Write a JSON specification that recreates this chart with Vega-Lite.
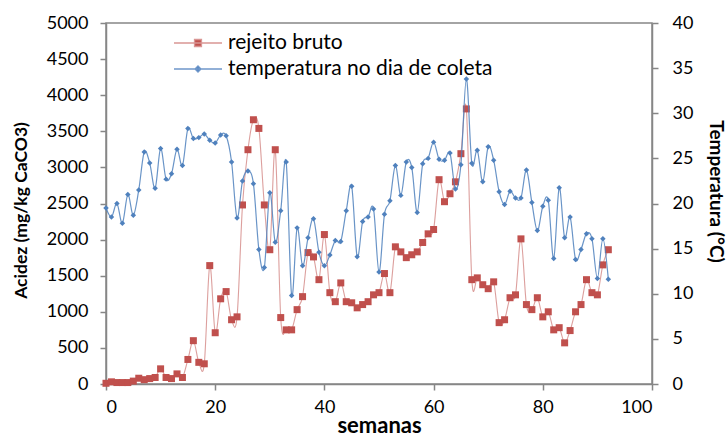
{
  "$schema": "https://vega.github.io/schema/vega-lite/v6.json",
  "width": 546,
  "height": 361,
  "autosize": {"type": "none"},
  "padding": {"left": 106, "top": 23, "right": 76, "bottom": 52},
  "config": {
    "font": "Lato",
    "view": {"stroke": "#868686", "strokeWidth": 1.5},
    "axis": {
      "grid": false,
      "domainColor": "#868686",
      "domainWidth": 1.5,
      "tickColor": "#868686",
      "tickWidth": 1.5,
      "tickSize": 6,
      "labelColor": "#000000",
      "labelFontSize": 18,
      "labelFont": "Lato",
      "titleFont": "Lato",
      "titleFontWeight": "bold",
      "titleColor": "#000000",
      "titleFontSize": 19
    },
    "legend": {
      "title": null,
      "orient": "none",
      "labelFontSize": 21,
      "labelFont": "Lato",
      "labelColor": "#000000",
      "labelLimit": 500,
      "labelOffset": 17,
      "symbolSize": 576,
      "symbolStrokeWidth": 1.3
    }
  },
  "datasets": {
    "d": [
      {"semana": 0, "acidez": 10, "temperatura": 19.5},
      {"semana": 1, "acidez": 30, "temperatura": 18.5},
      {"semana": 2, "acidez": 20, "temperatura": 20.0},
      {"semana": 3, "acidez": 20, "temperatura": 17.8},
      {"semana": 4, "acidez": 20, "temperatura": 21.0},
      {"semana": 5, "acidez": 40, "temperatura": 18.7},
      {"semana": 6, "acidez": 80, "temperatura": 21.5},
      {"semana": 7, "acidez": 60, "temperatura": 25.7},
      {"semana": 8, "acidez": 75, "temperatura": 24.5},
      {"semana": 9, "acidez": 90, "temperatura": 21.7},
      {"semana": 10, "acidez": 210, "temperatura": 26.1},
      {"semana": 11, "acidez": 90, "temperatura": 22.7},
      {"semana": 12, "acidez": 75, "temperatura": 23.3},
      {"semana": 13, "acidez": 140, "temperatura": 26.0},
      {"semana": 14, "acidez": 90, "temperatura": 24.2},
      {"semana": 15, "acidez": 340, "temperatura": 28.3},
      {"semana": 16, "acidez": 600, "temperatura": 27.2},
      {"semana": 17, "acidez": 300, "temperatura": 27.3},
      {"semana": 18, "acidez": 280, "temperatura": 27.7},
      {"semana": 19, "acidez": 1640, "temperatura": 27.0},
      {"semana": 20, "acidez": 710, "temperatura": 26.7},
      {"semana": 21, "acidez": 1180, "temperatura": 27.6},
      {"semana": 22, "acidez": 1280, "temperatura": 27.5},
      {"semana": 23, "acidez": 890, "temperatura": 24.6},
      {"semana": 24, "acidez": 930, "temperatura": 18.4},
      {"semana": 25, "acidez": 2480, "temperatura": 22.5},
      {"semana": 26, "acidez": 3245, "temperatura": 23.6},
      {"semana": 27, "acidez": 3660, "temperatura": 22.2},
      {"semana": 28, "acidez": 3540, "temperatura": 14.9},
      {"semana": 29, "acidez": 2480, "temperatura": 12.9},
      {"semana": 30, "acidez": 1860, "temperatura": 21.2},
      {"semana": 31, "acidez": 3245, "temperatura": 15.7},
      {"semana": 32, "acidez": 920, "temperatura": 19.2},
      {"semana": 33, "acidez": 750, "temperatura": 24.6},
      {"semana": 34, "acidez": 750, "temperatura": 9.8},
      {"semana": 35, "acidez": 1030, "temperatura": 17.3},
      {"semana": 36, "acidez": 1210, "temperatura": 13.1},
      {"semana": 37, "acidez": 1820, "temperatura": 16.2},
      {"semana": 38, "acidez": 1760, "temperatura": 18.3},
      {"semana": 39, "acidez": 1445, "temperatura": 14.6},
      {"semana": 40, "acidez": 2070, "temperatura": 13.1},
      {"semana": 41, "acidez": 1265, "temperatura": 14.3},
      {"semana": 42, "acidez": 1140, "temperatura": 15.9},
      {"semana": 43, "acidez": 1400, "temperatura": 15.8},
      {"semana": 44, "acidez": 1140, "temperatura": 19.2},
      {"semana": 45, "acidez": 1125, "temperatura": 21.9},
      {"semana": 46, "acidez": 1055, "temperatura": 14.1},
      {"semana": 47, "acidez": 1100, "temperatura": 18.0},
      {"semana": 48, "acidez": 1140, "temperatura": 18.5},
      {"semana": 49, "acidez": 1235, "temperatura": 19.4},
      {"semana": 50, "acidez": 1265, "temperatura": 12.4},
      {"semana": 51, "acidez": 1530, "temperatura": 18.8},
      {"semana": 52, "acidez": 1265, "temperatura": 20.3},
      {"semana": 53, "acidez": 1900, "temperatura": 24.2},
      {"semana": 54, "acidez": 1830, "temperatura": 20.9},
      {"semana": 55, "acidez": 1750, "temperatura": 24.6},
      {"semana": 56, "acidez": 1790, "temperatura": 24.0},
      {"semana": 57, "acidez": 1830, "temperatura": 19.0},
      {"semana": 58, "acidez": 1960, "temperatura": 24.4},
      {"semana": 59, "acidez": 2080, "temperatura": 25.0},
      {"semana": 60, "acidez": 2140, "temperatura": 26.8},
      {"semana": 61, "acidez": 2830, "temperatura": 24.9},
      {"semana": 62, "acidez": 2525, "temperatura": 24.8},
      {"semana": 63, "acidez": 2635, "temperatura": 25.6},
      {"semana": 64, "acidez": 2800, "temperatura": 21.6},
      {"semana": 65, "acidez": 3190, "temperatura": 24.3},
      {"semana": 66, "acidez": 3810, "temperatura": 33.8},
      {"semana": 67, "acidez": 1445, "temperatura": 24.45},
      {"semana": 68, "acidez": 1470, "temperatura": 25.9},
      {"semana": 69, "acidez": 1375, "temperatura": 22.4},
      {"semana": 70, "acidez": 1320, "temperatura": 26.3},
      {"semana": 71, "acidez": 1415, "temperatura": 24.8},
      {"semana": 72, "acidez": 850, "temperatura": 21.3},
      {"semana": 73, "acidez": 890, "temperatura": 19.9},
      {"semana": 74, "acidez": 1195, "temperatura": 21.35},
      {"semana": 75, "acidez": 1235, "temperatura": 20.6},
      {"semana": 76, "acidez": 2010, "temperatura": 20.6},
      {"semana": 77, "acidez": 1100, "temperatura": 23.7},
      {"semana": 78, "acidez": 1030, "temperatura": 20.1},
      {"semana": 79, "acidez": 1195, "temperatura": 17.0},
      {"semana": 80, "acidez": 930, "temperatura": 19.7},
      {"semana": 81, "acidez": 1000, "temperatura": 20.35},
      {"semana": 82, "acidez": 750, "temperatura": 13.9},
      {"semana": 83, "acidez": 780, "temperatura": 21.75},
      {"semana": 84, "acidez": 570, "temperatura": 16.2},
      {"semana": 85, "acidez": 740, "temperatura": 18.5},
      {"semana": 86, "acidez": 1000, "temperatura": 13.8},
      {"semana": 87, "acidez": 1100, "temperatura": 14.9},
      {"semana": 88, "acidez": 1445, "temperatura": 16.65},
      {"semana": 89, "acidez": 1265, "temperatura": 16.1},
      {"semana": 90, "acidez": 1235, "temperatura": 11.7},
      {"semana": 91, "acidez": 1650, "temperatura": 16.1},
      {"semana": 92, "acidez": 1860, "temperatura": 11.6}
    ]
  },
  "data": {"name": "d"},
  "encoding": {
    "x": {
      "field": "semana",
      "type": "quantitative",
      "scale": {"domain": [0, 100], "nice": false},
      "axis": {"values": [0, 20, 40, 60, 80, 100], "title": "semanas", "titleFontSize": 22, "labelPadding": 8, "titlePadding": -1}
    }
  },
  "layer": [
    {
      "encoding": {
        "y": {
          "field": "acidez",
          "type": "quantitative",
          "scale": {"domain": [0, 5000], "nice": false},
          "axis": {"orient": "left", "format": "d", "values": [0, 500, 1000, 1500, 2000, 2500, 3000, 3500, 4000, 4500, 5000], "title": "Acidez (mg/kg CaCO3)", "titleFontSize": 17.5, "titleY": 187, "labelPadding": 12, "titlePadding": 16}
        }
      },
      "layer": [
        {"mark": {"type": "line", "interpolate": "cardinal", "color": "#C0504D", "strokeWidth": 1.1, "opacity": 0.55}},
        {
          "mark": {"type": "point", "shape": "square", "filled": true, "size": 49, "opacity": 1},
          "encoding": {
            "color": {
              "datum": "rejeito bruto",
              "scale": {"range": ["#C0504D"]},
              "legend": {
                "legendX": 79,
                "legendY": 7,
                "symbolType": "M-2,0L2,0M-0.29,-0.29L0.29,-0.29L0.29,0.29L-0.29,0.29Z",
                "symbolStrokeColor": "#D99694",
                "symbolFillColor": "#C0504D",
                "symbolStrokeWidth": 1.3,
                "encode": {
                  "symbols": {
                    "stroke": {"value": "#D99694"},
                    "strokeWidth": {"value": 1.3},
                    "strokeOpacity": {"value": 1}
                  }
                }
              }
            }
          }
        }
      ]
    },
    {
      "encoding": {
        "y": {
          "field": "temperatura",
          "type": "quantitative",
          "scale": {"domain": [0, 40], "nice": false},
          "axis": {"orient": "right", "values": [0, 5, 10, 15, 20, 25, 30, 35, 40], "title": "Temperatura (°C)", "titleY": 168, "labelPadding": 14, "titlePadding": 13}
        }
      },
      "layer": [
        {"mark": {"type": "line", "interpolate": "cardinal", "color": "#4F81BD", "strokeWidth": 1.2, "opacity": 0.85}},
        {
          "mark": {"type": "point", "shape": "diamond", "filled": true, "size": 30, "opacity": 1},
          "encoding": {
            "color": {
              "datum": "temperatura no dia de coleta",
              "scale": {"range": ["#4F81BD"]},
              "legend": {
                "legendX": 79,
                "legendY": 33,
                "symbolType": "M-2,0L2,0M0,-0.25L0.25,0L0,0.25L-0.25,0Z",
                "symbolStrokeColor": "#6F97CA",
                "symbolFillColor": "#4F81BD",
                "symbolStrokeWidth": 1.3,
                "encode": {
                  "symbols": {
                    "stroke": {"value": "#6F97CA"},
                    "strokeWidth": {"value": 1.3},
                    "strokeOpacity": {"value": 1}
                  }
                }
              }
            }
          }
        }
      ]
    }
  ],
  "resolve": {"scale": {"y": "independent", "color": "independent"}, "legend": {"color": "independent"}}
}
